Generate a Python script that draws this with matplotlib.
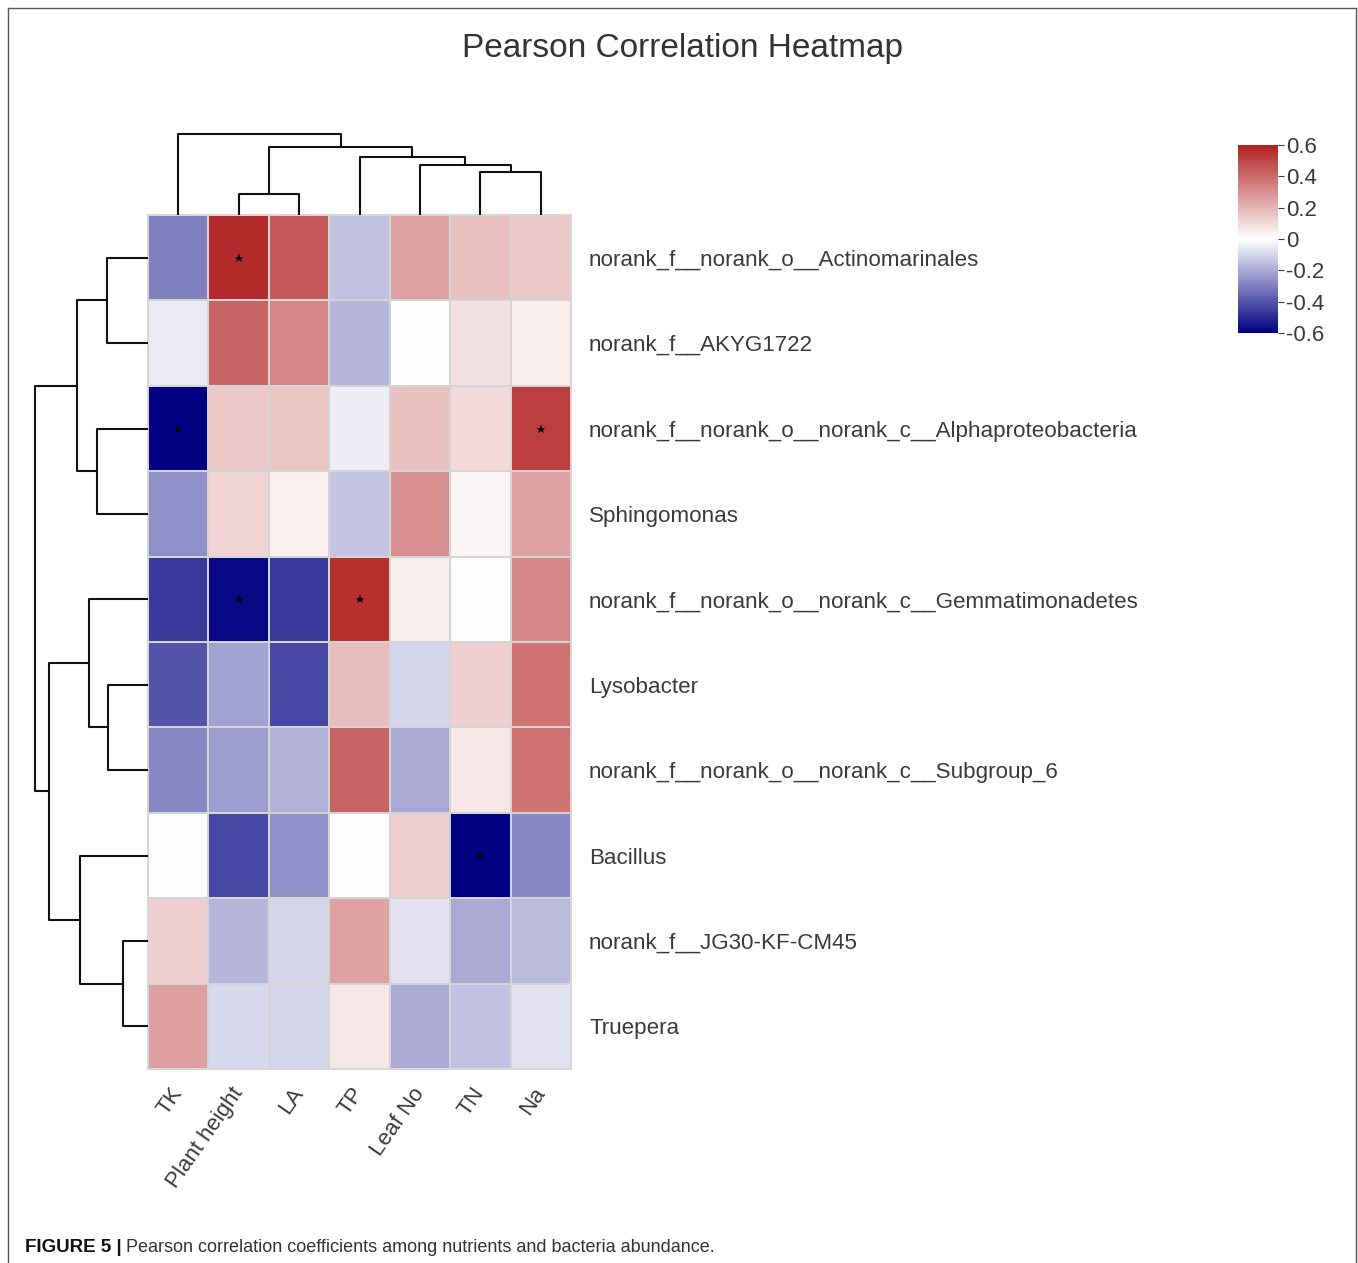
import numpy as np
import matplotlib
matplotlib.use("Agg")
import matplotlib.pyplot as plt
from matplotlib.colors import LinearSegmentedColormap
from matplotlib.lines import Line2D

plt.rcParams['font.family'] = ['Liberation Sans', 'DejaVu Sans']

# ============================ Data ============================
columns = ['TK', 'Plant height', 'LA', 'TP', 'Leaf No', 'TN', 'Na']
rows = [
    'norank_f__norank_o__Actinomarinales',
    'norank_f__AKYG1722',
    'norank_f__norank_o__norank_c__Alphaproteobacteria',
    'Sphingomonas',
    'norank_f__norank_o__norank_c__Gemmatimonadetes',
    'Lysobacter',
    'norank_f__norank_o__norank_c__Subgroup_6',
    'Bacillus',
    'norank_f__JG30-KF-CM45',
    'Truepera',
]

r_actino = [-0.30, 0.58, 0.45, -0.15, 0.25, 0.17, 0.15]
r_akyg = [-0.05, 0.42, 0.33, -0.17, 0.00, 0.08, 0.05]
r_alpha = [-0.60, 0.15, 0.16, -0.04, 0.17, 0.10, 0.52]
r_sphingo = [-0.26, 0.12, 0.04, -0.14, 0.30, 0.03, 0.25]
r_gemma = [-0.46, -0.58, -0.46, 0.56, 0.05, 0.00, 0.32]
r_lyso = [-0.40, -0.22, -0.43, 0.18, -0.10, 0.13, 0.38]
r_subgr6 = [-0.28, -0.23, -0.18, 0.42, -0.20, 0.07, 0.38]
r_bacillus = [0.00, -0.43, -0.26, 0.00, 0.13, -0.60, -0.28]
r_jg30 = [0.13, -0.17, -0.10, 0.25, -0.07, -0.20, -0.16]
r_truepera = [0.26, -0.09, -0.10, 0.07, -0.20, -0.15, -0.07]

# significant cells (row, col)
signif = [(0, 1), (2, 0), (2, 6), (4, 1), (4, 3), (7, 5)]

# dendrogram merges: (node_a, node_b, distance); leaves are 0..n-1,
# merge k creates node n+k
col_merges = [(5, 6, 0.43), (1, 2, 0.21), (4, 7, 0.50), (3, 9, 0.58),
              (8, 10, 0.68), (0, 11, 0.81)]
row_merges = [(8, 9, 0.25), (5, 6, 0.40), (0, 1, 0.41), (2, 3, 0.51),
              (4, 11, 0.59), (7, 10, 0.68), (12, 13, 0.71), (14, 15, 0.99),
              (16, 17, 1.13)]

cbar_ticks = [0.6, 0.4, 0.2, 0, -0.2, -0.4, -0.6]
cbar_labels = ['0.6', '0.4', '0.2', '0', '-0.2', '-0.4', '-0.6']

W, H = 1358, 1263
TEXT = '#3a3a3a'


def fx(px):
    return px / W


def fy(py):
    return 1 - py / H


def dendro_segments(merges, n):
    pos = {i: i + 0.5 for i in range(n)}
    hgt = {i: 0.0 for i in range(n)}
    segs = []
    for k, (a, b, d) in enumerate(merges):
        segs.append(([pos[a], pos[a], pos[b], pos[b]], [hgt[a], d, d, hgt[b]]))
        pos[n + k] = (pos[a] + pos[b]) / 2
        hgt[n + k] = d
    return segs


data = np.array([r_actino, r_akyg, r_alpha, r_sphingo, r_gemma,
                 r_lyso, r_subgr6, r_bacillus, r_jg30, r_truepera])
cmap = LinearSegmentedColormap.from_list('rwb', ['#000080', '#ffffff', '#b22222'])

fig = plt.figure(figsize=(W / 100, H / 100), dpi=100)

# heatmap
ax = fig.add_axes([fx(148), fy(1069), fx(571) - fx(148), fy(215) - fy(1069)])
mesh = ax.pcolormesh(np.arange(len(columns) + 1), np.arange(len(rows) + 1), data,
                     cmap=cmap, vmin=-0.6, vmax=0.6,
                     edgecolors='#d4d4d4', linewidth=1.3)
for r, c in signif:
    ax.plot(c + 0.5, r + 0.5, marker='*', color='black', markersize=6.5,
            markeredgewidth=0)
ax.set_xlim(0, len(columns))
ax.set_ylim(len(rows), 0)
for s in ax.spines.values():
    s.set_color('#d4d4d4')
    s.set_linewidth(1.3)
ax.set_xticks(np.arange(len(columns)) + 0.5)
ax.set_xticklabels(columns, rotation=55, ha='right', va='center',
                   rotation_mode='anchor', fontsize=16, color=TEXT)
ax.yaxis.tick_right()
ax.set_yticks(np.arange(len(rows)) + 0.5)
ax.set_yticklabels(rows, fontsize=16.1, color=TEXT)
ax.tick_params(axis='x', length=0, pad=15)
ax.tick_params(axis='y', length=0, pad=13)

# top dendrogram
axt = fig.add_axes([fx(148), fy(215), fx(571) - fx(148), fy(125) - fy(215)])
for xs, ys in dendro_segments(col_merges, len(columns)):
    axt.plot(xs, ys, color='#111111', linewidth=1.5, solid_capstyle='butt')
axt.set_xlim(0, len(columns))
axt.set_ylim(0, 0.90)
axt.axis('off')

# left dendrogram
axl = fig.add_axes([fx(28), fy(1069), fx(148) - fx(28), fy(215) - fy(1069)])
for xs, ys in dendro_segments(row_merges, len(rows)):
    axl.plot(ys, xs, color='#111111', linewidth=1.5, solid_capstyle='butt')
axl.set_ylim(len(rows), 0)
axl.set_xlim(1.20, 0)
axl.axis('off')

# colorbar
cax = fig.add_axes([fx(1238), fy(333), fx(1278) - fx(1238), fy(145) - fy(333)])
cb = fig.colorbar(mesh, cax=cax, ticks=cbar_ticks)
cb.ax.set_yticklabels(cbar_labels)
cb.outline.set_visible(False)
cb.ax.tick_params(labelsize=16, colors=TEXT, length=4, width=0.8, pad=2)

# title
fig.text(fx(682), fy(48), 'Pearson Correlation Heatmap', fontsize=24,
         color='#333333', ha='center', va='center')

# frame
for x0, y0, x1, y1 in [(8, 8, 1356, 8), (8, 8, 8, 1263), (1356, 8, 1356, 1263)]:
    fig.add_artist(Line2D([fx(x0), fx(x1)], [fy(y0), fy(y1)],
                          color='#555555', linewidth=1.0))

# caption
fig.text(fx(25), fy(1247), 'FIGURE 5 |', fontsize=13.5, fontweight='bold',
         color='#111111', ha='left', va='center')
fig.text(fx(126), fy(1247),
         'Pearson correlation coefficients among nutrients and bacteria abundance.',
         fontsize=13, color='#333333', ha='left', va='center')

fig.savefig('out.png', dpi=100)
